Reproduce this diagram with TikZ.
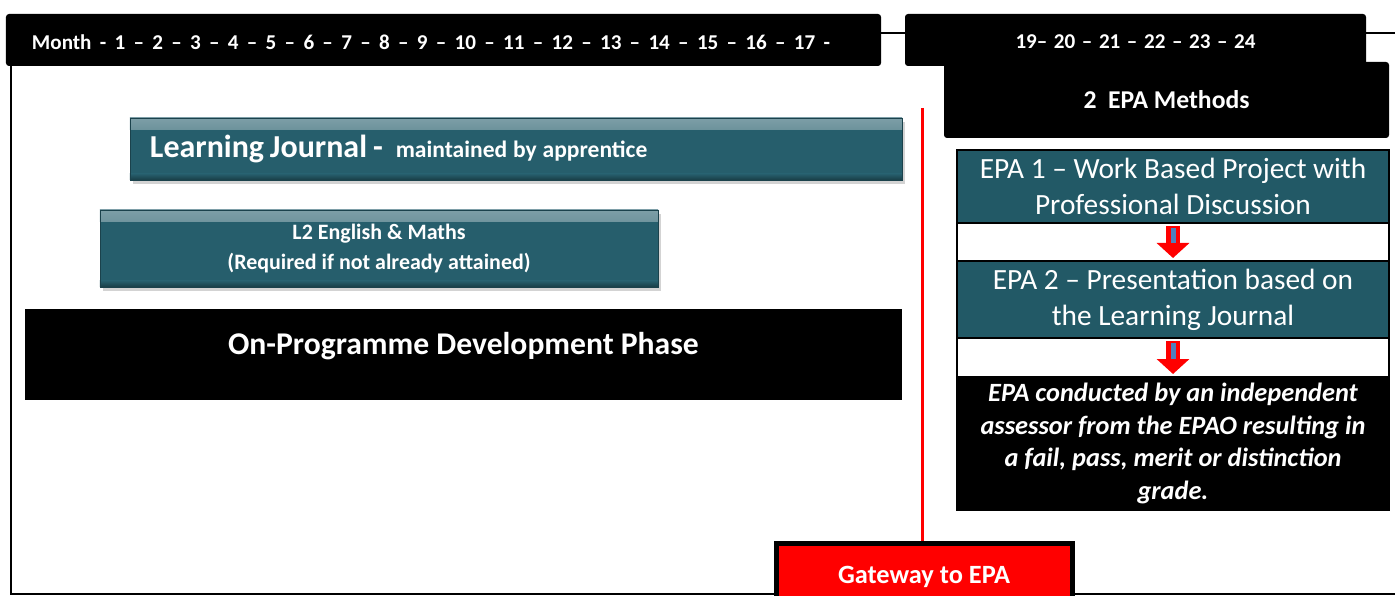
\documentclass[tikz,border=0pt]{standalone}
\usepackage{fontspec}
\setmainfont{Carlito}
\usetikzlibrary{positioning,arrows.meta,shadows}

\definecolor{bevelteal}{RGB}{38,94,108}
\definecolor{epateal}{RGB}{34,89,102}
\definecolor{shaftblue}{RGB}{79,129,189}

\begin{document}
\begin{tikzpicture}[x=0.2mm, y=-0.2mm, font=\bfseries, text=white,
    bar/.style={fill=black, rounded corners=0.6mm, minimum height=10.4mm, inner sep=0pt},
    bevel/.style={fill=bevelteal, draw=bevelteal!70!black, inner sep=0pt, align=center,
      drop shadow={shadow xshift=0.6mm, shadow yshift=-0.8mm, opacity=0.35},
      path picture={
        \shade[top color=bevelteal!60!white, bottom color=bevelteal]
          (path picture bounding box.north west) rectangle ([yshift=-2.4mm]path picture bounding box.north east);
        \shade[top color=bevelteal, bottom color=bevelteal!65!black]
          ([yshift=1.2mm]path picture bounding box.south west) rectangle (path picture bounding box.south east);}},
    cell/.style={draw=black, line width=1.5pt, minimum width=86.4mm, inner sep=0pt, outer sep=0pt, align=center},
    flow/.style={draw=red, line width=2.9mm, -{Triangle[width=6.4mm, length=3mm]}, shorten <=0.6mm, shorten >=0.6mm},
    shaft/.style={draw=shaftblue, line width=1mm, shorten <=1mm, shorten >=3.6mm}]
  \useasboundingbox (0,0) rectangle (1395,596);
  \clip (0,0) rectangle (1395,596);

  % frame behind everything
  \draw[line width=0.8pt] (11,33) rectangle (1400,594);

  % month bars
  \node[bar, minimum width=175mm] (monthA) at (443.5,40) {};
  \node[anchor=west, inner sep=0pt, font=\bfseries\fontsize{12}{14}\selectfont] (monthsA) at ([xshift=5.2mm,yshift=-0.4mm]monthA.west)
    {\makebox[159.6mm][s]{Month - 1 – 2 – 3 – 4 – 5 – 6 – 7 – 8 – 9 – 10 – 11 – 12 – 13 – 14 – 15 – 16 – 17 -}};
  \node[bar, minimum width=92.2mm, font=\bfseries\fontsize{12}{14}\selectfont, text height=3.6mm] (monthB) at (1135.5,40)
    {\makebox[48mm][s]{19– 20 – 21 – 22 – 23 – 24}};

  \node[bar, minimum width=89mm, minimum height=15.2mm, font=\bfseries\fontsize{14.6}{17}\selectfont] (methods) at (1166.5,100) {2\ \ EPA Methods};

  % on-programme boxes
  \node[bevel, minimum width=154.4mm, minimum height=12.4mm, text width=146.4mm, align=left, inner xsep=4mm] (journal) at (516,149)
    {{\fontsize{18.2}{21}\selectfont Learning Journal -}\hspace{2.6mm}{\fontsize{13.4}{16}\selectfont maintained by apprentice}};
  \node[bevel, minimum width=111.6mm, minimum height=15.4mm, font=\bfseries\fontsize{12.5}{17.6}\selectfont] (maths) at (379,248.5)
    {L2 English \& Maths\\(Required if not already attained)};
  \node[fill=black, minimum width=175.4mm, minimum height=18.2mm, inner sep=0pt, text height=4.5mm, text depth=4.5mm,
    font=\bfseries\fontsize{18}{21}\selectfont] (phase) at (463.5,354.5) {On-Programme Development Phase};

  % end point assessment column
  \node[cell, fill=epateal, minimum height=14.6mm, font=\fontsize{16.7}{20.4}\selectfont] (epa1) at (1173,186.5)
    {EPA 1 – Work Based Project with\\Professional Discussion};
  \node[cell, fill=white, minimum height=7.6mm, below=0pt of epa1] (gap1) {};
  \node[cell, fill=epateal, minimum height=15.4mm, below=0pt of gap1, font=\fontsize{16.7}{20.4}\selectfont] (epa2)
    {EPA 2 – Presentation based on\\the Learning Journal};
  \node[cell, fill=white, minimum height=7.8mm, below=0pt of epa2] (gap2) {};
  \node[cell, fill=black, minimum height=26.6mm, below=0pt of gap2, font=\bfseries\itshape\fontsize{15}{18.5}\selectfont] (verdict)
    {EPA conducted by an independent\\assessor from the EPAO resulting in\\a fail, pass, merit or distinction\\grade.};

  \draw[flow] (epa1.south) -- (epa2.north);
  \draw[shaft] (epa1.south) -- (epa2.north);
  \draw[flow] (epa2.south) -- (verdict.north);
  \draw[shaft] (epa2.south) -- (verdict.north);

  % gateway
  \node[fill=red, draw=black, line width=1mm, minimum width=59.2mm, minimum height=13.4mm, inner sep=0pt,
    font=\bfseries\fontsize{15}{17}\selectfont] (gate) at (924,576.5) {Gateway to EPA};
  \coordinate (gtop) at (922,108);
  \draw[red, line width=0.6mm] (gtop) -- (gtop |- gate.north);
\end{tikzpicture}
\end{document}
